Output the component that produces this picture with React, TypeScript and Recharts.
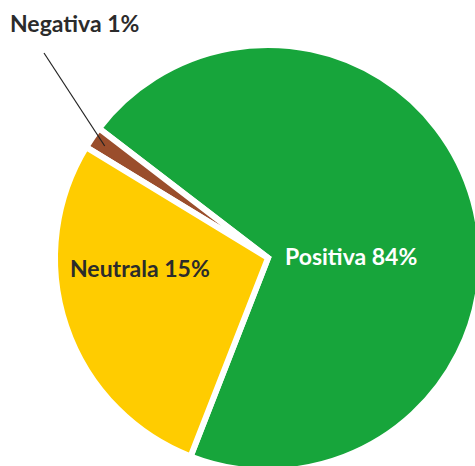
import React from "react";
import { PieChart, Pie, Cell } from "recharts";

const categories = ["Positiva", "Negativa", "Neutrala"];
const shares = [70.5, 1.7, 27.8];
const labelTexts = ["Positiva 84%", "Negativa 1%", "Neutrala 15%"];
const colors = ["#17A53B", "#9A4E2C", "#FFCC00"];
const textColors = ["#FFFFFF", "#2B2B2B", "#2B2B2B"];

const data = categories.map((name, i) => ({ name, value: shares[i], label: labelTexts[i] }));

const RAD = Math.PI / 180;

const renderLabel = (props: any) => {
  const { cx, cy, midAngle, outerRadius, index } = props;
  const font = { fontFamily: "Lato, 'Open Sans', sans-serif", fontWeight: 700, fontSize: 23 };
  if (index === 0) {
    return (
      <text x={cx + 17} y={cy + 7} fill={textColors[0]} style={font}>
        {labelTexts[0]}
      </text>
    );
  }
  if (index === 2) {
    return (
      <text x={cx - 198} y={cy + 19} fill={textColors[2]} style={font}>
        {labelTexts[2]}
      </text>
    );
  }
  const r = outerRadius - 15;
  const sx = cx + r * Math.cos(-midAngle * RAD);
  const sy = cy + r * Math.sin(-midAngle * RAD);
  const ex = cx - 224;
  const ey = cy - 205;
  return (
    <g>
      <line x1={sx} y1={sy} x2={ex} y2={ey} stroke="#222" strokeWidth={1.2} />
      <text x={cx - 258} y={cy - 226} fill={textColors[1]} style={font}>
        {labelTexts[1]}
      </text>
    </g>
  );
};

export default function App() {
  return (
    <div style={{ position: "absolute", left: 0, top: 0, width: 475, height: 466, background: "#fff", overflow: "hidden" }}>
      <PieChart width={475} height={466} margin={{ top: 0, right: 0, bottom: 0, left: 0 }}>
        <Pie
          data={data}
          dataKey="value"
          nameKey="name"
          cx={268}
          cy={258}
          outerRadius={213}
          startAngle={-111.3}
          endAngle={248.7}
          stroke="#FFFFFF"
          strokeWidth={6}
          labelLine={false}
          label={renderLabel}
          isAnimationActive={false}
        >
          {data.map((d, i) => (
            <Cell key={d.name} fill={colors[i]} />
          ))}
        </Pie>
      </PieChart>
    </div>
  );
}
